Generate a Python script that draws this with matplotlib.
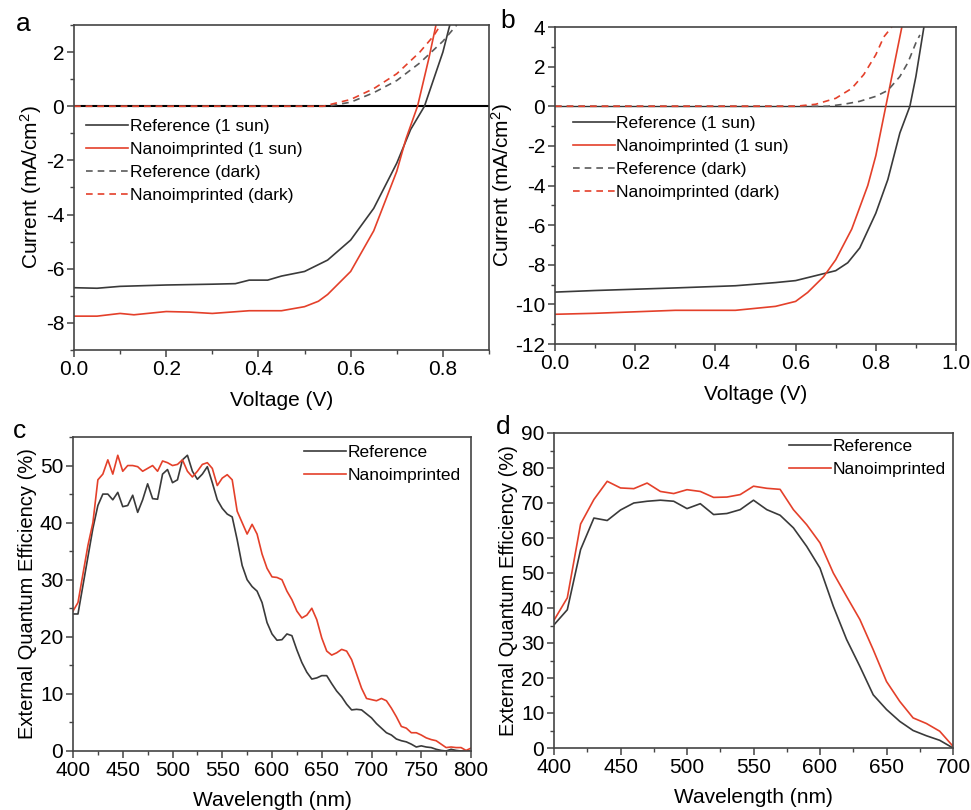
import matplotlib
matplotlib.use("Agg")
import matplotlib.pyplot as plt
from matplotlib.ticker import MultipleLocator

plt.rcParams["font.family"] = ["Liberation Sans", "DejaVu Sans"]
plt.rcParams["mathtext.default"] = "regular"
plt.rcParams["axes.unicode_minus"] = False

RED = "#e4402a"
BLACK = "#3a3a3a"
GRAY = "#5a5a5a"

# Panel a: J-V curves
v_a_ref = [0.0, 0.05, 0.1, 0.2, 0.3, 0.35, 0.38, 0.42, 0.45, 0.5, 0.55, 0.6, 0.65, 0.7, 0.73, 0.76, 0.8, 0.815]
j_a_ref = [-6.7, -6.72, -6.65, -6.6, -6.57, -6.55, -6.42, -6.42, -6.27, -6.1, -5.68, -4.94, -3.77, -2.1, -0.86, 0.0, 2.0, 3.0]
v_a_nano = [0.0, 0.05, 0.1, 0.13, 0.2, 0.25, 0.3, 0.38, 0.45, 0.5, 0.53, 0.55, 0.6, 0.65, 0.7, 0.72, 0.745, 0.77, 0.785]
j_a_nano = [-7.75, -7.75, -7.65, -7.7, -7.58, -7.6, -7.65, -7.55, -7.55, -7.4, -7.2, -6.95, -6.1, -4.6, -2.4, -1.2, 0.0, 1.8, 3.0]
v_a_ref_dark = [0.0, 0.3, 0.55, 0.6, 0.65, 0.7, 0.75, 0.8, 0.83]
j_a_ref_dark = [0.0, 0.0, 0.0, 0.15, 0.5, 0.95, 1.6, 2.4, 3.0]
v_a_nano_dark = [0.0, 0.3, 0.54, 0.6, 0.65, 0.7, 0.75, 0.78, 0.795]
j_a_nano_dark = [0.0, 0.0, 0.0, 0.25, 0.65, 1.2, 2.0, 2.6, 3.0]

# Panel b: J-V curves
v_b_ref = [0.0, 0.1, 0.3, 0.45, 0.55, 0.6, 0.65, 0.7, 0.73, 0.76, 0.8, 0.83, 0.86, 0.885, 0.9, 0.92]
j_b_ref = [-9.38, -9.3, -9.17, -9.06, -8.9, -8.8, -8.55, -8.3, -7.9, -7.15, -5.4, -3.7, -1.35, 0.0, 1.5, 4.0]
v_b_nano = [0.0, 0.1, 0.3, 0.45, 0.55, 0.6, 0.63, 0.67, 0.7, 0.74, 0.78, 0.8, 0.825, 0.845, 0.865]
j_b_nano = [-10.5, -10.45, -10.3, -10.3, -10.1, -9.85, -9.4, -8.6, -7.75, -6.2, -4.0, -2.5, 0.0, 2.0, 4.0]
v_b_ref_dark = [0.0, 0.4, 0.68, 0.72, 0.76, 0.8, 0.83, 0.86, 0.88, 0.9, 0.91]
j_b_ref_dark = [0.0, 0.0, 0.0, 0.1, 0.25, 0.5, 0.8, 1.5, 2.2, 3.2, 3.6]
v_b_nano_dark = [0.0, 0.4, 0.6, 0.65, 0.7, 0.74, 0.77, 0.8, 0.82, 0.84]
j_b_nano_dark = [0.0, 0.0, 0.0, 0.1, 0.4, 0.9, 1.6, 2.6, 3.5, 4.0]

# Panel c: EQE
wl_c = list(range(400, 801, 5))
eqe_c_ref = [24, 24, 29, 34, 39, 43, 45, 45, 44, 45.3, 42.8, 43, 44.8, 41.8, 44, 46.8,
             44.2, 44.1, 48.5, 49.3, 47, 47.5, 51, 51.8, 49, 47.6, 48.5, 49.8, 47, 44,
             42.5, 41.5, 41, 37, 32.5, 30, 28.8, 28, 26, 22.5, 20.5, 19.4, 19.5, 20.5,
             20.2, 17.7, 15.5, 13.8, 12.6, 12.8, 13.2, 13.2, 11.8, 10.5, 9.5, 8.2, 7.2,
             7.3, 7.2, 6.5, 5.8, 4.8, 4, 3.2, 2.8, 2.1, 1.8, 1.6, 1.2, 0.7, 0.9, 0.7,
             0.6, 0.3, 0.1, 0, 0.3, 0.1, 0, 0, 0]
eqe_c_nano = [24.5, 26, 31, 36, 40, 47.5, 48.5, 51, 48.5, 51.8, 49, 50, 50, 49.8, 49,
              49.5, 50, 49, 50.8, 50.5, 50, 50.2, 51, 49, 48, 49, 50.2, 50.5, 49.5,
              46.5, 47.8, 48.4, 47.5, 42, 40, 38, 39.7, 38, 34.5, 32, 30.5, 30.4, 30,
              28, 26.5, 24.5, 23.3, 23.8, 25, 23, 19.8, 17.5, 16.8, 17.2, 17.8, 17.5,
              16, 13.5, 11, 9.2, 9.0, 8.8, 9.2, 8.8, 7.5, 6, 4.3, 4.0, 3.2, 3.2, 2.8,
              2.3, 2.0, 1.8, 1.2, 0.6, 0.7, 0.6, 0.6, 0.1, 0.5]

# Panel d: EQE
wl_d = list(range(400, 701, 10))
eqe_d_ref = [35.2, 39.5, 56.7, 65.7, 65, 68, 70, 70.5, 70.8, 70.5, 68.4, 69.8, 66.7, 67,
             68.1, 70.8, 68.1, 66.5, 62.9, 57.6, 51.4, 40.5, 31, 23.3, 15.2, 11, 7.6, 5,
             3.5, 2.2, 0]
eqe_d_nano = [36.5, 42.9, 64, 71, 76.2, 74.3, 74.1, 75.7, 73.3, 72.7, 73.8, 73.3, 71.6,
              71.7, 72.4, 74.8, 74.2, 73.9, 68.1, 63.8, 58.6, 50, 43.3, 36.7, 28.1, 19,
              13.3, 8.6, 7, 4.8, 0.5]

W, H = 971, 810
fig = plt.figure(figsize=(W / 100, H / 100), dpi=100)


def px_axes(l, t, r, b):
    return fig.add_axes([l / W, 1 - b / H, (r - l) / W, (b - t) / H])


def style(ax):
    for s in ax.spines.values():
        s.set_color("#444444")
        s.set_linewidth(1.2)
    ax.tick_params(which="major", direction="out", length=5, width=1.1,
                   labelsize=15, pad=2, color="#444444")
    ax.tick_params(which="minor", direction="out", length=3, width=1.0, color="#444444")
    ax.tick_params(top=False, right=False)


def add_legend(ax, x, y):
    ax.legend(loc="upper left", bbox_to_anchor=(x, y), frameon=False, fontsize=12.5,
              handlelength=2.4, handletextpad=0.1, labelspacing=0.45, borderpad=0,
              borderaxespad=0)


ax_a = px_axes(74, 25, 489, 350)
ax_b = px_axes(555, 27, 956, 344)
ax_c = px_axes(73, 437, 471, 751)
ax_d = px_axes(554, 433, 953, 748)

# a
ax_a.axhline(0, color="black", lw=1.5, zorder=1)
ax_a.plot(v_a_ref, j_a_ref, color=BLACK, lw=1.2, label="Reference (1 sun)")
ax_a.plot(v_a_nano, j_a_nano, color=RED, lw=1.2, label="Nanoimprinted (1 sun)")
ax_a.plot(v_a_ref_dark, j_a_ref_dark, color=GRAY, lw=1.2, ls=(0, (4, 3)), label="Reference (dark)")
ax_a.plot(v_a_nano_dark, j_a_nano_dark, color=RED, lw=1.2, ls=(0, (4, 3)), label="Nanoimprinted (dark)")
ax_a.set_xlim(0, 0.9)
ax_a.set_ylim(-9, 3)
ax_a.xaxis.set_major_locator(MultipleLocator(0.2))
ax_a.xaxis.set_minor_locator(MultipleLocator(0.1))
ax_a.yaxis.set_major_locator(MultipleLocator(2))
ax_a.yaxis.set_minor_locator(MultipleLocator(1))
ax_a.set_xlabel("Voltage (V)", fontsize=15, labelpad=9)
ax_a.set_ylabel("Current (mA/cm$^{2}$)", fontsize=15, labelpad=1)
add_legend(ax_a, 0.03, 0.71)
style(ax_a)

# b
ax_b.axhline(0, color="#333333", lw=1.0, zorder=1)
ax_b.plot(v_b_ref, j_b_ref, color=BLACK, lw=1.2, label="Reference (1 sun)")
ax_b.plot(v_b_nano, j_b_nano, color=RED, lw=1.2, label="Nanoimprinted (1 sun)")
ax_b.plot(v_b_ref_dark, j_b_ref_dark, color=GRAY, lw=1.2, ls=(0, (4, 3)), label="Reference (dark)")
ax_b.plot(v_b_nano_dark, j_b_nano_dark, color=RED, lw=1.2, ls=(0, (4, 3)), label="Nanoimprinted (dark)")
ax_b.set_xlim(0, 1.0)
ax_b.set_ylim(-12, 4)
ax_b.xaxis.set_major_locator(MultipleLocator(0.2))
ax_b.xaxis.set_minor_locator(MultipleLocator(0.1))
ax_b.yaxis.set_major_locator(MultipleLocator(2))
ax_b.yaxis.set_minor_locator(MultipleLocator(1))
ax_b.set_xlabel("Voltage (V)", fontsize=15, labelpad=9)
ax_b.set_ylabel("Current (mA/cm$^{2}$)", fontsize=15, labelpad=0)
add_legend(ax_b, 0.045, 0.72)
style(ax_b)

# c
ax_c.plot(wl_c, eqe_c_ref, color=BLACK, lw=1.2, label="Reference")
ax_c.plot(wl_c, eqe_c_nano, color=RED, lw=1.2, label="Nanoimprinted")
ax_c.set_xlim(400, 800)
ax_c.set_ylim(0, 55)
ax_c.xaxis.set_major_locator(MultipleLocator(50))
ax_c.xaxis.set_minor_locator(MultipleLocator(25))
ax_c.yaxis.set_major_locator(MultipleLocator(10))
ax_c.yaxis.set_minor_locator(MultipleLocator(5))
ax_c.set_xlabel("Wavelength (nm)", fontsize=15, labelpad=8)
ax_c.set_ylabel("External Quantum Efficiency (%)", fontsize=14.5, labelpad=2)
add_legend(ax_c, 0.58, 0.975)
style(ax_c)

# d
ax_d.plot(wl_d, eqe_d_ref, color=BLACK, lw=1.2, label="Reference")
ax_d.plot(wl_d, eqe_d_nano, color=RED, lw=1.2, label="Nanoimprinted")
ax_d.set_xlim(400, 700)
ax_d.set_ylim(0, 90)
ax_d.xaxis.set_major_locator(MultipleLocator(50))
ax_d.xaxis.set_minor_locator(MultipleLocator(25))
ax_d.yaxis.set_major_locator(MultipleLocator(10))
ax_d.yaxis.set_minor_locator(MultipleLocator(5))
ax_d.set_xlabel("Wavelength (nm)", fontsize=15, labelpad=8)
ax_d.set_ylabel("External Quantum Efficiency (%)", fontsize=14.5, labelpad=2)
add_legend(ax_d, 0.59, 0.98)
style(ax_d)

# panel letters
for letter, x, y in [("a", 16, 31), ("b", 500, 28), ("c", 13, 438), ("d", 496, 434)]:
    fig.text(x / W, 1 - y / H, letter, fontsize=19, ha="left", va="baseline")

fig.savefig("out.png", dpi=100)
